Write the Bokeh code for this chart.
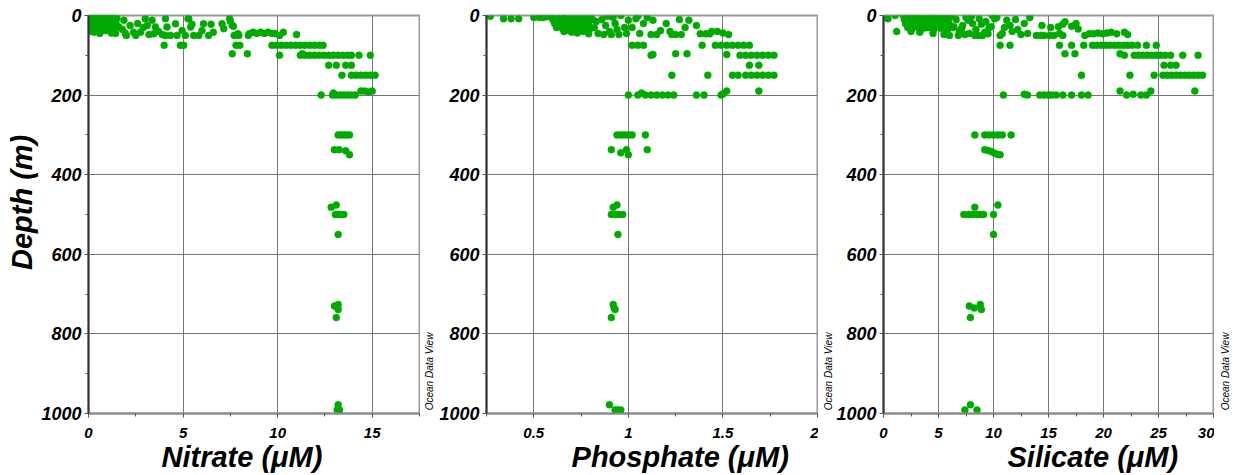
import math
from bokeh.plotting import figure
from bokeh.layouts import row
from bokeh.models import Range1d, FixedTicker, LinearAxis
from bokeh.embed import file_html
from bokeh.resources import INLINE

# ---------------- data ----------------
nitrate_um = [
    0.05, 0.15, 0.3, 0.45, 0.6, 0.75, 0.9, 1.05, 1.2, 1.35, 1.5,
    0.1, 0.25, 0.4, 0.55, 0.7, 0.85, 1.0, 1.15, 1.3, 1.45,
    0.0, 0.2, 0.35, 0.5, 0.65, 0.8, 0.95, 1.1, 1.25, 1.4,
    0.05, 0.3, 0.6, 0.9, 1.2, 1.43, 1.16,
    1.6, 1.87, 1.95, 2.2, 2.38, 2.75, 3.0, 3.1, 3.36, 3.54, 3.45,
    4.07, 4.15, 4.07, 4.33, 4.6, 4.68, 4.95, 5.12, 5.3, 5.4,
    1.8, 2.0, 2.5, 2.6, 2.9, 3.2, 3.7, 3.9,
    5.26, 5.47, 5.56, 5.83, 6.0, 6.08, 6.35, 6.48, 6.6,
    7.06, 7.15, 7.46, 7.5, 7.6, 7.66, 7.7, 7.9, 7.95, 8.45,
    4.0, 4.86, 5.03, 7.8, 8.0, 7.6, 8.4,
    8.5, 8.7, 8.9, 9.1, 9.3, 9.5, 9.7, 9.85, 10.1, 10.3, 11.0,
    9.7, 9.95, 10.2, 10.45, 10.7, 10.95, 11.2, 11.45, 11.7, 11.95, 12.2, 12.4,
    10.1, 11.3, 11.2, 11.45, 11.7, 11.95, 12.2, 12.45, 12.7, 12.95, 13.2, 13.45, 13.7, 13.9, 14.3, 14.9,
    12.7, 13.1, 13.6, 13.9,
    13.4, 13.9, 14.15, 14.4, 14.65, 14.9, 15.15,
    14.4, 14.6, 14.8, 15.0,
    12.3, 12.9, 12.95, 13.1, 13.3, 13.5, 13.7, 13.9, 14.1,
    13.2, 13.35, 13.5, 13.65, 13.8,
    13.0, 13.25, 13.6, 13.8,
    12.83, 13.1, 13.05, 13.2, 13.35, 13.5, 13.2,
    13.0, 13.2, 13.2, 13.1, 13.2, 13.27, 13.15,
]
nitrate_depth = [
    0, 3, 0, 5, 2, 0, 4, 1, 0, 3, 6,
    12, 15, 10, 18, 14, 12, 16, 20, 14, 18,
    25, 28, 22, 30, 26, 32, 24, 28, 35, 30,
    40, 42, 45, 38, 44, 45, 38,
    29, 12, 45, 25, 42, 42, 8, 25, 12, 29, 46,
    8, 29, 50, 50, 21, 50, 38, 50, 8, 29,
    35, 50, 50, 20, 30, 48, 40, 48,
    8, 22, 50, 50, 38, 21, 50, 22, 42,
    21, 33, 8, 14, 25, 27, 50, 46, 50, 50,
    75, 75, 75, 75, 75, 96, 96,
    46, 42, 45, 42, 45, 42, 45, 45, 50, 42, 48,
    75, 75, 75, 75, 75, 75, 75, 75, 75, 75, 75, 75,
    100, 96, 100, 100, 100, 100, 100, 100, 100, 100, 100, 100, 100, 100, 100, 100,
    125, 125, 125, 125,
    150, 150, 150, 150, 150, 150, 150,
    190, 190, 192, 190,
    200, 200, 195, 200, 200, 200, 200, 200, 200,
    300, 300, 300, 300, 300,
    337, 337, 340, 350,
    482, 476, 500, 500, 500, 500, 550,
    730, 726, 739, 759, 978, 991, 991,
]

phosphate_um = [
    0.27, 0.34, 0.38, 0.42, 0.5, 0.53, 0.55, 0.57,
    0.59, 0.62, 0.65, 0.68, 0.71, 0.74, 0.77, 0.8,
    0.6, 0.63, 0.66, 0.69, 0.72, 0.75, 0.78, 0.81,
    0.61, 0.64, 0.67, 0.7, 0.73, 0.76, 0.79,
    0.62, 0.65, 0.68, 0.71, 0.74, 0.77, 0.8,
    0.66, 0.7, 0.73, 0.76, 0.79, 0.69,
    0.82, 0.84, 0.86, 0.88, 0.9, 0.92, 0.93, 0.95, 0.96, 0.98, 1.0, 0.87, 0.91, 0.94, 0.99, 0.83, 0.89,
    1.02, 1.04, 1.06, 1.08, 1.1, 1.12, 1.15, 1.17, 1.05, 1.13,
    1.02, 1.05, 1.08, 1.12,
    1.2, 1.22, 1.25, 1.27, 1.3, 1.32, 1.36, 1.28, 1.23,
    1.38, 1.41, 1.44, 1.47, 1.5, 1.53, 1.43,
    1.39, 1.46, 1.49, 1.52, 1.55, 1.58, 1.61, 1.64,
    1.13, 1.25, 1.31, 1.52, 1.59, 1.62, 1.65, 1.68, 1.71, 1.74, 1.77,
    1.64, 1.69,
    1.23, 1.42, 1.55, 1.58, 1.62, 1.65, 1.68, 1.71, 1.74, 1.77,
    1.69,
    1.0, 1.05, 1.07, 1.09, 1.12, 1.15, 1.18, 1.21, 1.24, 1.36, 1.4, 1.49, 1.5, 1.52,
    0.94, 0.96, 0.98, 1.0, 1.02, 1.09,
    0.91, 0.96, 0.99, 1.0, 1.1,
    0.92, 0.94, 0.91, 0.93, 0.95, 0.97, 0.945,
    0.92, 0.93, 0.925, 0.91, 0.9, 0.93, 0.945, 0.96,
]
phosphate_depth = [
    2, 8, 8, 8, 5, 5, 5, 3,
    0, 2, 0, 3, 1, 0, 4, 2,
    10, 12, 8, 14, 10, 12, 16, 10,
    20, 22, 18, 24, 20, 26, 22,
    30, 32, 28, 34, 30, 36, 32,
    40, 42, 44, 40, 46, 38,
    30, 45, 10, 25, 40, 5, 20, 48, 0, 30, 12, 48, 48, 35, 45, 15, 2,
    30, 8, 45, 20, 5, 48, 48, 38, 2, 12,
    75, 75, 75, 100,
    20, 40, 48, 10, 30, 12, 25, 48, 48,
    46, 46, 40, 40, 44, 48, 46,
    75, 75, 75, 75, 75, 75, 75, 75,
    98, 96, 96, 98, 100, 100, 100, 100, 100, 100, 100,
    125, 125,
    150, 150, 150, 150, 150, 150, 150, 150, 150, 150,
    190,
    200, 200, 195, 200, 200, 200, 200, 200, 200, 200, 200, 200, 197, 190,
    300, 300, 300, 300, 300, 300,
    337, 345, 337, 350, 337,
    482, 476, 500, 500, 500, 500, 550,
    726, 739, 735, 759, 978, 991, 991, 991,
]

silicate_um = [
    0.4, 1.06, 1.2,
    1.8, 2.2, 2.6, 3.0, 3.4, 3.8, 4.2, 4.6, 5.0, 5.4, 5.8, 6.2,
    1.9, 2.3, 2.7, 3.1, 3.5, 3.9, 4.3, 4.7, 5.1, 5.5, 5.9,
    2.0, 2.4, 2.8, 3.2, 3.6, 4.0, 4.4, 4.8, 5.2, 5.6, 6.0, 6.4,
    2.2, 2.6, 3.0, 3.4, 3.8, 4.2, 4.6, 5.2, 5.8, 6.3,
    2.5, 3.3, 4.5, 5.5, 6.0,
    6.6, 6.9, 7.2, 7.5, 7.8, 8.1, 8.4, 8.7, 9.0, 9.3, 9.6, 9.9,
    6.8, 7.4, 8.0, 8.6, 9.2, 9.8, 7.1, 7.7, 8.3, 8.9, 9.5, 10.1,
    10.6, 11.5,
    10.3, 10.6, 10.8, 11.0, 11.2, 11.5, 11.7, 12.0, 12.2, 12.5, 12.8, 13.1, 13.3,
    13.9, 14.3, 14.6, 15.1, 14.4, 15.2, 15.9, 16.3, 16.5, 17.1, 17.5, 17.7, 18.3, 15.5, 16.0, 16.3,
    18.7, 19.1, 19.5, 19.9, 20.3, 20.7, 21.2, 21.9, 22.2,
    16.0, 17.1, 18.2, 19.0, 19.4, 19.8, 20.2, 20.6, 21.0, 21.4, 21.8, 22.2, 22.6, 23.1, 23.9, 24.8,
    16.5, 17.4, 21.5, 21.9, 22.8, 23.2, 23.6, 24.0, 24.4, 24.8, 25.2, 25.6, 26.1, 27.2, 28.6,
    25.5, 26.1, 26.6,
    18.0, 22.4, 24.6, 25.4, 25.8, 26.2, 26.6, 27.0, 27.4, 27.8, 28.2, 28.6, 29.0,
    28.3, 21.5,
    10.9, 12.8, 13.1, 14.2, 14.6, 15.0, 15.3, 15.7, 16.3, 17.1, 18.0, 18.6, 22.1, 22.7, 23.4, 23.9, 24.3,
    8.3, 9.2, 9.6, 10.0, 10.4, 10.8, 11.6,
    9.2, 9.5, 9.8, 10.1, 10.4, 10.6,
    7.3, 7.7, 8.1, 8.5, 8.8, 9.1, 8.3, 10.0, 10.4, 10.0,
    7.8, 8.25, 8.8, 8.9, 7.9, 7.4, 7.9, 8.5,
]
silicate_depth = [
    8, 0, 40,
    0, 2, 0, 1, 3, 0, 2, 1, 0, 4, 6, 2,
    10, 12, 8, 14, 10, 12, 9, 11, 15, 13, 10,
    20, 22, 18, 24, 20, 26, 22, 19, 21, 25, 23, 28,
    30, 33, 28, 35, 31, 30, 34, 32, 36, 30,
    40, 42, 45, 48, 50,
    10, 40, 25, 5, 45, 20, 35, 8, 50, 15, 30, 0,
    50, 48, 2, 50, 42, 28, 32, 12, 50, 22, 46, 8,
    75, 75,
    5, 50, 45, 30, 12, 25, 40, 10, 35, 48, 20, 45, 5,
    50, 50, 50, 50, 25, 30, 28, 22, 16, 27, 20, 34, 50, 50, 45, 50,
    46, 46, 44, 46, 44, 42, 46, 42, 48,
    75, 75, 75, 75, 75, 75, 75, 75, 75, 75, 75, 75, 75, 75, 75, 75,
    96, 96, 96, 100, 100, 100, 100, 100, 100, 100, 100, 100, 100, 100, 100,
    125, 125, 125,
    150, 150, 150, 150, 150, 150, 150, 150, 150, 150, 150, 150, 150,
    190, 190,
    200, 198, 200, 200, 200, 200, 200, 200, 200, 200, 200, 200, 200, 198, 200, 200, 190,
    300, 300, 300, 300, 300, 300, 300,
    337, 339, 342, 346, 349, 350,
    500, 500, 500, 500, 500, 500, 482, 500, 476, 550,
    730, 735, 726, 739, 759, 991, 978, 991,
]

depth_ticks = [0, 200, 400, 600, 800, 1000]
depth_minor = [100, 300, 500, 700, 900]

nitrate_ticks = [0, 5, 10, 15]
nitrate_minor = [2.5, 7.5, 12.5, 17.5]
nitrate_labels = ["0", "5", "10", "15"]

phosphate_ticks = [0.5, 1.0, 1.5, 2.0]
phosphate_minor = [0.25, 0.75, 1.25, 1.75]
phosphate_labels = ["0.5", "1", "1.5", "2"]

silicate_ticks = [0, 5, 10, 15, 20, 25, 30]
silicate_minor = [2.5, 7.5, 12.5, 17.5, 22.5, 27.5]
silicate_labels = ["0", "5", "10", "15", "20", "25", "30"]

watermark = "Ocean Data View"

assert len(nitrate_um) == len(nitrate_depth)
assert len(phosphate_um) == len(phosphate_depth)
assert len(silicate_um) == len(silicate_depth)

# ---------------- styling ----------------
FONT = "Liberation Sans"
GREEN = "#00AA00"
H = 475
TOP = 15
BOTTOM = 62
NB = "\u00a0"


def odv_axis(standoff):
    # watermark text, written upward along the bottom of the previous panel's right edge
    return LinearAxis(ticker=FixedTicker(ticks=[]), axis_line_color=None,
                      major_tick_line_color=None, minor_tick_line_color=None,
                      major_label_standoff=0, major_tick_out=0, minor_tick_out=0,
                      axis_label=watermark + NB * 113,
                      axis_label_standoff=standoff,
                      axis_label_text_font=FONT, axis_label_text_font_style="italic",
                      axis_label_text_font_size="10px", axis_label_text_color="black")


def panel(xs, ds, xr, ticks, minor, labels, xlabel, width, bl, br, odv_standoff=None):
    p = figure(width=width, height=H, x_range=Range1d(*xr), y_range=Range1d(1000, 0),
               output_backend="svg", toolbar_location=None,
               min_border_left=bl, min_border_right=br,
               min_border_top=TOP, min_border_bottom=BOTTOM)
    p.background_fill_color = "white"
    p.border_fill_color = "white"
    p.outline_line_color = "#9a9a9a"
    p.outline_line_width = 2

    p.xaxis.ticker = FixedTicker(ticks=ticks, minor_ticks=minor)
    p.yaxis.ticker = FixedTicker(ticks=depth_ticks, minor_ticks=depth_minor)
    p.xaxis.major_label_overrides = {t: l for t, l in zip(ticks, labels)}

    for ax in (p.xaxis[0], p.yaxis[0]):
        ax.major_label_text_font = FONT
        ax.major_label_text_font_style = "bold italic"
        ax.major_label_text_color = "black"
        ax.major_tick_in = 0
        ax.major_tick_out = 4
        ax.minor_tick_in = 0
        ax.minor_tick_out = 3
        ax.major_tick_line_color = "#555555"
        ax.minor_tick_line_color = "#555555"
        ax.axis_label_text_font = FONT
        ax.axis_label_text_font_style = "bold italic"
        ax.axis_label_text_font_size = "29px"
        ax.axis_label_text_color = "black"
    p.xaxis.major_label_text_font_size = "15px"
    p.yaxis.major_label_text_font_size = "18px"
    p.xaxis.major_label_standoff = 10
    p.yaxis.major_label_standoff = 3
    p.yaxis.axis_line_color = "#333333"
    p.yaxis.axis_line_width = 2
    p.xaxis.axis_line_color = "#8a8a8a"
    p.xaxis.axis_line_width = 2
    p.xaxis.axis_label = xlabel
    p.xaxis.axis_label_standoff = 0

    p.xgrid.grid_line_color = "#767676"
    p.ygrid.grid_line_color = "#767676"
    p.xgrid.grid_line_width = 1
    p.ygrid.grid_line_width = 1

    p.scatter(xs, ds, size=7, fill_color=GREEN, line_color=GREEN, line_width=0.5)

    if odv_standoff is not None:
        p.add_layout(odv_axis(odv_standoff), "left")
    return p


p1 = panel(nitrate_um, nitrate_depth, (0, 17.5), nitrate_ticks, nitrate_minor,
           nitrate_labels, "Nitrate (\u03bcM)" + NB * 3, 420, 88, 1)
p1.yaxis[0].axis_label = NB * 3 + "Depth (m)"
p1.yaxis[0].axis_label_standoff = 0

p2 = panel(phosphate_um, phosphate_depth, (0.25, 2.0), phosphate_ticks, phosphate_minor,
           phosphate_labels, NB * 7 + "Phosphate (\u03bcM)", 398, 66, 1, odv_standoff=2)

p3 = panel(silicate_um, silicate_depth, (0, 30), silicate_ticks, silicate_minor,
           silicate_labels, NB * 11 + "Silicate (\u03bcM)", 396, 65, 1, odv_standoff=0)

# narrow strip holding the last panel's watermark
p4 = figure(width=18, height=H, x_range=Range1d(0, 1), y_range=Range1d(1000, 0),
            output_backend="svg", toolbar_location=None,
            x_axis_location=None, y_axis_location=None,
            min_border_left=16, min_border_right=0,
            min_border_top=TOP, min_border_bottom=BOTTOM)
p4.outline_line_color = None
p4.grid.visible = False
p4.background_fill_color = "white"
p4.border_fill_color = "white"
p4.add_layout(odv_axis(0), "left")

layout = row(p1, p2, p3, p4)
open("out.html", "w").write(file_html(layout, INLINE))
